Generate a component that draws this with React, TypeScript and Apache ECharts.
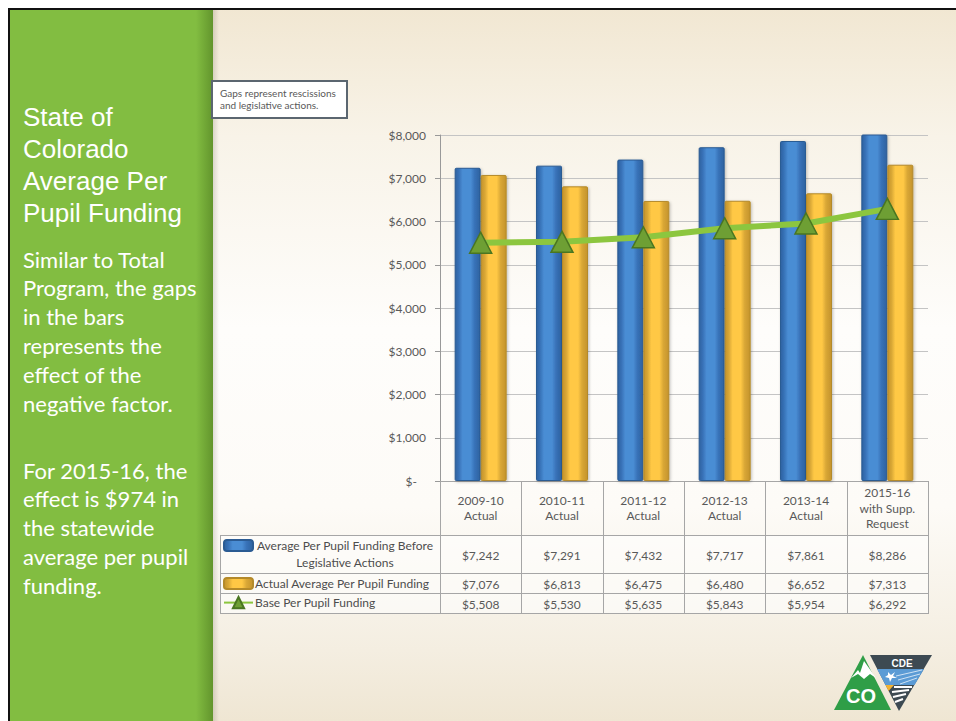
import React, { useEffect, useRef } from 'react';
import * as echarts from 'echarts';

const categories = ['2009-10\nActual', '2010-11\nActual', '2011-12\nActual', '2012-13\nActual', '2013-14\nActual', '2015-16\nwith Supp.\nRequest'];
const beforeActions = [7242, 7291, 7432, 7717, 7861, 8286];
const actualFunding = [7076, 6813, 6475, 6480, 6652, 7313];
const baseFunding = [5508, 5530, 5635, 5843, 5954, 6292];
const seriesNames = [
  'Average Per Pupil Funding Before Legislative Actions',
  'Actual Average Per Pupil Funding',
  'Base Per Pupil Funding',
];
const legendLines = [['Average Per Pupil Funding Before', 'Legislative Actions']];
const yMin = 0;
const yMax = 8000;
const yInterval = 1000;
const titleLines = ['State of', 'Colorado', 'Average Per', 'Pupil Funding'];
const bodyLines1 = ['Similar to Total', 'Program, the gaps', 'in the bars', 'represents the', 'effect of the', 'negative factor.'];
const bodyLines2 = ['For 2015-16, the', 'effect is $974 in', 'the statewide', 'average per pupil', 'funding.'];
const noteLines = ['Gaps represent rescissions', 'and legislative actions.'];

const money = (v: number) => '$' + v.toLocaleString('en-US');
const FONT = 'Lato';
const GRAY = '#595959';
const LINE = '#a6a6a6';

export default function App() {
  const ref = useRef<HTMLDivElement>(null);
  useEffect(() => {
    if (!ref.current) return;
    const chart = echarts.init(ref.current, null, { renderer: 'svg' });
    const blueGrad = new echarts.graphic.LinearGradient(0, 0, 1, 0, [
      { offset: 0, color: '#2d62a0' },
      { offset: 0.15, color: '#3872b8' },
      { offset: 0.3, color: '#4a8dd4' },
      { offset: 0.62, color: '#4a8dd4' },
      { offset: 0.78, color: '#3872b8' },
      { offset: 1, color: '#2d62a0' },
    ]);
    const orangeGrad = new echarts.graphic.LinearGradient(0, 0, 1, 0, [
      { offset: 0, color: '#c4932c' },
      { offset: 0.15, color: '#d9a736' },
      { offset: 0.3, color: '#ffc845' },
      { offset: 0.62, color: '#ffc845' },
      { offset: 0.78, color: '#d9a736' },
      { offset: 1, color: '#c4932c' },
    ]);
    const gridLeft = 432, gridRight = 28, gridTop = 127, gridBottom = 240;
    chart.setOption({
      animation: false,
      grid: { left: gridLeft, right: gridRight, top: gridTop, bottom: gridBottom, containLabel: false },
      legend: [
        { data: [seriesNames[0]], left: 215, top: 531, itemWidth: 29, itemHeight: 11, padding: 0, selectedMode: false, formatter: () => '', icon: 'roundRect' },
        { data: [seriesNames[1]], left: 215, top: 569, itemWidth: 29, itemHeight: 11, padding: 0, selectedMode: false, icon: 'roundRect',
          textStyle: { color: '#4d4d4d', fontSize: 12, fontFamily: FONT, padding: [0, 0, 0, -3] } },
        { data: [seriesNames[2]], left: 215, top: 588, itemWidth: 29, itemHeight: 14, padding: 0, selectedMode: false,
          textStyle: { color: '#4d4d4d', fontSize: 12, fontFamily: FONT, padding: [0, 0, 0, -3] } },
      ],
      xAxis: {
        type: 'category',
        data: categories,
        axisLine: { show: true, lineStyle: { color: LINE } },
        axisTick: { show: false },
        axisLabel: { show: false },
        splitLine: { show: false },
      },
      yAxis: {
        type: 'value',
        min: yMin,
        max: yMax,
        interval: yInterval,
        axisLine: { show: true, lineStyle: { color: '#999999' } },
        axisTick: { show: true, length: 5, lineStyle: { color: '#999999' } },
        splitLine: { show: true, lineStyle: { color: '#c4c4c4' } },
        axisLabel: {
          color: GRAY, fontSize: 12, fontFamily: FONT, margin: 14,
          formatter: (v: number) => (v === 0 ? '{z|$-}' : money(v)),
          rich: { z: { color: GRAY, fontSize: 12, fontFamily: FONT, padding: [0, 9, 0, 0] } },
        },
      },
      series: [
        {
          name: seriesNames[0], type: 'bar', data: beforeActions, barWidth: 26, barGap: '0%',
          itemStyle: { color: blueGrad, borderColor: '#2b5b93', borderWidth: 1, borderRadius: 1,
            shadowColor: 'rgba(0,0,0,0.25)', shadowBlur: 3, shadowOffsetX: 1, shadowOffsetY: 1 },
        },
        {
          name: seriesNames[1], type: 'bar', data: actualFunding, barWidth: 26, barGap: '0%',
          itemStyle: { color: orangeGrad, borderColor: '#b48a2a', borderWidth: 1, borderRadius: 1,
            shadowColor: 'rgba(0,0,0,0.25)', shadowBlur: 3, shadowOffsetX: 1, shadowOffsetY: 1 },
        },
        {
          name: seriesNames[2], type: 'line', data: baseFunding, symbol: 'triangle', symbolSize: [22, 21],
          lineStyle: { color: '#8cc63f', width: 6 },
          itemStyle: { color: '#6e9f34', borderColor: '#4a7621', borderWidth: 1.5 },
          z: 5,
        },
      ],
    });

    const W = 948;
    const tableLeft = 212;
    const x0 = gridLeft;
    const x1 = W - gridRight;
    const bw = (x1 - x0) / categories.length;
    const axisY = 713 - gridBottom;
    const rowTops = [527, 565, 585, 605];
    const centers = categories.map((_, i) => chart.convertToPixel({ xAxisIndex: 0 }, i) as number);

    const g: any[] = [];
    // left panel + border
    g.push({ type: 'rect', shape: { x: 2, y: 2, width: 203, height: 711 }, style: { fill: '#82bd41' }, silent: true });
    g.push({ type: 'rect', shape: { x: 188, y: 2, width: 17, height: 711 }, silent: true,
      style: { fill: new echarts.graphic.LinearGradient(0, 0, 1, 0, [
        { offset: 0, color: 'rgba(60,100,20,0)' }, { offset: 1, color: 'rgba(60,100,20,0.45)' }]) } });
    g.push({ type: 'rect', shape: { x: 205, y: 2, width: 6, height: 711 }, silent: true,
      style: { fill: new echarts.graphic.LinearGradient(0, 0, 1, 0, [
        { offset: 0, color: 'rgba(80,80,60,0.18)' }, { offset: 1, color: 'rgba(80,80,60,0)' }]) } });
    g.push({ type: 'rect', shape: { x: 0, y: 0, width: W, height: 2 }, style: { fill: '#111' }, silent: true });
    g.push({ type: 'rect', shape: { x: 0, y: 0, width: 2, height: 713 }, style: { fill: '#111' }, silent: true });
    titleLines.forEach((t, i) => g.push({ type: 'text', silent: true, style: {
      text: t, x: 15, y: 109 + i * 32, fill: '#fff', fontSize: 26, fontFamily: 'Liberation Sans', textVerticalAlign: 'middle' } }));
    bodyLines1.forEach((t, i) => g.push({ type: 'text', silent: true, style: {
      text: t, x: 15, y: 251 + i * 28.8, fill: '#fff', fontSize: 22, fontFamily: FONT, textVerticalAlign: 'middle' } }));
    bodyLines2.forEach((t, i) => g.push({ type: 'text', silent: true, style: {
      text: t, x: 15, y: 462 + i * 28.8, fill: '#fff', fontSize: 22, fontFamily: FONT, textVerticalAlign: 'middle' } }));
    // note box
    g.push({ type: 'rect', shape: { x: 204, y: 73, width: 135, height: 37 }, silent: true,
      style: { fill: '#ffffff', stroke: '#5b6670', lineWidth: 2 } });
    noteLines.forEach((t, i) => g.push({ type: 'text', silent: true, style: {
      text: t, x: 212, y: 85 + i * 12, fill: GRAY, fontSize: 10, fontFamily: FONT, textVerticalAlign: 'middle' } }));
    // table
    g.push({ type: 'rect', silent: true, shape: { x: tableLeft, y: rowTops[0], width: x1 - tableLeft, height: rowTops[3] - rowTops[0] },
      style: { fill: 'rgba(255,255,255,0.55)' } });
    rowTops.forEach((y) => g.push({ type: 'line', silent: true, shape: { x1: tableLeft, y1: y + 0.5, x2: x1 + 1, y2: y + 0.5 },
      style: { stroke: LINE, lineWidth: 1 } }));
    g.push({ type: 'line', silent: true, shape: { x1: tableLeft + 0.5, y1: rowTops[0], x2: tableLeft + 0.5, y2: rowTops[3] },
      style: { stroke: LINE, lineWidth: 1 } });
    for (let i = 0; i <= categories.length; i++) {
      const x = Math.round(x0 + i * bw) + 0.5;
      g.push({ type: 'line', silent: true, shape: { x1: x, y1: axisY, x2: x, y2: rowTops[3] }, style: { stroke: LINE, lineWidth: 1 } });
    }
    const rows = [beforeActions, actualFunding, baseFunding];
    centers.forEach((cx, i) => {
      const lines = categories[i].split('\n');
      const lh = 15.5;
      const midY = (axisY + rowTops[0]) / 2;
      lines.forEach((t, k) => g.push({ type: 'text', silent: true, style: {
        text: t, x: cx, y: midY + (k - (lines.length - 1) / 2) * lh, fill: GRAY, fontSize: 12, fontFamily: FONT,
        textAlign: 'center', textVerticalAlign: 'middle' } }));
      rows.forEach((arr, r) => g.push({ type: 'text', silent: true, style: {
        text: money(arr[i]), x: cx, y: (rowTops[r] + rowTops[r + 1]) / 2 + 1, fill: GRAY, fontSize: 12, fontFamily: FONT,
        textAlign: 'center', textVerticalAlign: 'middle' } }));
    });
    legendLines[0].forEach((t, k) => g.push({ type: 'text', silent: true, style: {
      text: t, x: 337, y: 537 + k * 17, fill: '#4d4d4d', fontSize: 12, fontFamily: FONT, textAlign: 'center', textVerticalAlign: 'middle' } }));
    // logo
    g.push({ type: 'polygon', silent: true, shape: { points: [[855, 647], [826, 702], [883, 702]] }, style: { fill: '#2f9e47' } });
    g.push({ type: 'polygon', silent: true, shape: { points: [[843, 670], [850, 662], [852, 665], [856, 653], [868, 670], [862, 666], [856, 671], [850, 666]] }, style: { fill: '#ffffff' } });
    g.push({ type: 'text', silent: true, style: { text: 'CO', x: 853, y: 688, fill: '#fff', fontSize: 20, fontWeight: 'bold', fontFamily: 'Liberation Sans', textAlign: 'center', textVerticalAlign: 'middle' } });
    g.push({ type: 'polygon', silent: true, shape: { points: [[862, 647], [924, 647], [891, 703]] }, style: { fill: '#3d4a52' } });
    g.push({ type: 'text', silent: true, style: { text: 'CDE', x: 894, y: 655, fill: '#fff', fontSize: 10, fontWeight: 'bold', fontFamily: 'Liberation Sans', textAlign: 'center', textVerticalAlign: 'middle' } });
    g.push({ type: 'polygon', silent: true, shape: { points: [[869, 661], [916, 661], [906.5, 677], [877.5, 677]] }, style: { fill: '#5b9bd5' } });
    g.push({ type: 'polygon', silent: true, shape: { points: [[880, 664], [883, 667], [887, 664], [885, 668], [889, 670], [884, 670], [882, 674], [881, 670], [877, 669], [880, 667]] }, style: { fill: '#ffffff' } });
    g.push({ type: 'polygon', silent: true, shape: { points: [[877.5, 677], [886, 677], [880.5, 683]] }, style: { fill: '#f2b233' } });
    [[886, 679, 904, 679], [884, 684, 901, 682], [885, 689, 898, 686], [887, 694, 895, 691]].forEach((l) =>
      g.push({ type: 'line', silent: true, shape: { x1: l[0], y1: l[1], x2: l[2], y2: l[3] }, style: { stroke: '#ffffff', lineWidth: 2 } }));
    [[888, 668, 914, 662], [890, 672, 912, 666], [892, 676, 909, 670]].forEach((l) =>
      g.push({ type: 'line', silent: true, shape: { x1: l[0], y1: l[1], x2: l[2], y2: l[3] }, style: { stroke: 'rgba(255,255,255,0.7)', lineWidth: 1 } }));

    chart.setOption({ graphic: { elements: g } });
    return () => chart.dispose();
  }, []);
  return (
    <div
      ref={ref}
      style={{
        position: 'fixed',
        left: 8,
        top: 8,
        width: 948,
        height: 713,
        background: 'linear-gradient(180deg, #f1e7d2 0%, #f8f3e8 18%, #fefdfb 45%, #fdfbf7 70%, #f4eee1 90%, #efe6d3 100%)',
      }}
    />
  );
}
